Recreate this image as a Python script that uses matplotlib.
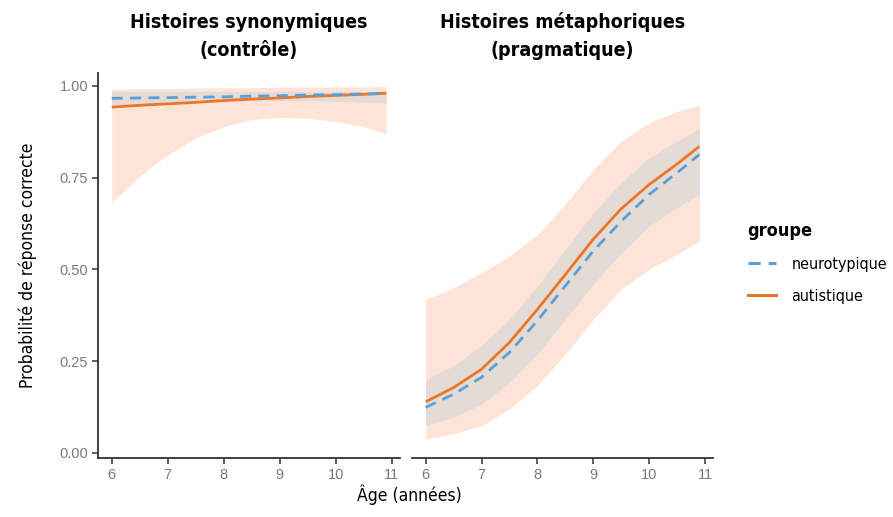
import matplotlib
matplotlib.use("Agg")
import matplotlib.pyplot as plt
from matplotlib.lines import Line2D

# predicted probability by age, read per half year
ages = [6, 6.5, 7, 7.5, 8, 8.5, 9, 9.5, 10, 10.5, 10.9]

# Histoires synonymiques (contrôle)
syn_neuro = [0.966, 0.967, 0.968, 0.969, 0.970, 0.972, 0.973, 0.975, 0.976, 0.978, 0.979]
syn_neuro_lo = [0.948, 0.950, 0.952, 0.955, 0.957, 0.959, 0.960, 0.960, 0.958, 0.956, 0.953]
syn_neuro_hi = [0.985, 0.985, 0.985, 0.985, 0.985, 0.985, 0.985, 0.985, 0.985, 0.985, 0.985]
syn_autis = [0.942, 0.947, 0.951, 0.955, 0.960, 0.964, 0.967, 0.971, 0.974, 0.977, 0.980]
syn_autis_lo = [0.681, 0.754, 0.813, 0.858, 0.889, 0.908, 0.914, 0.912, 0.903, 0.889, 0.869]
syn_autis_hi = [0.991, 0.992, 0.993, 0.994, 0.995, 0.995, 0.996, 0.996, 0.997, 0.997, 0.998]

# Histoires métaphoriques (pragmatique)
met_neuro = [0.124, 0.160, 0.206, 0.274, 0.360, 0.455, 0.550, 0.631, 0.704, 0.763, 0.813]
met_neuro_lo = [0.074, 0.097, 0.133, 0.192, 0.269, 0.364, 0.459, 0.545, 0.618, 0.668, 0.704]
met_neuro_hi = [0.201, 0.237, 0.292, 0.364, 0.455, 0.554, 0.654, 0.736, 0.804, 0.849, 0.885]
met_autis = [0.139, 0.178, 0.228, 0.301, 0.391, 0.486, 0.582, 0.665, 0.731, 0.787, 0.835]
met_autis_lo = [0.038, 0.052, 0.074, 0.120, 0.183, 0.269, 0.364, 0.446, 0.500, 0.541, 0.577]
met_autis_hi = [0.418, 0.450, 0.491, 0.536, 0.595, 0.677, 0.772, 0.849, 0.899, 0.930, 0.948]

titles = ["Histoires synonymiques\n(contrôle)", "Histoires métaphoriques\n(pragmatique)"]
groups = ["neurotypique", "autistique"]
xticks = [6, 7, 8, 9, 10, 11]
yticks = [0.0, 0.25, 0.5, 0.75, 1.0]

BLUE = "#5b9fd8"
ORANGE = "#e8772a"
PEACH = "#fee4d6"
GREY = "#e4dad6"
NARROW = ["DejaVu Sans"]
TICK = ["Liberation Sans", "DejaVu Sans"]
narrow = dict(family=NARROW, stretch="condensed")

fig = plt.figure(figsize=(8.93, 5.17), dpi=100)
ax1 = fig.add_axes([0.1097, 0.1141, 0.3382, 0.7447])
ax2 = fig.add_axes([0.4614, 0.1141, 0.3371, 0.7447])

panels = [
    (ax1, syn_neuro, syn_neuro_lo, syn_neuro_hi, syn_autis, syn_autis_lo, syn_autis_hi),
    (ax2, met_neuro, met_neuro_lo, met_neuro_hi, met_autis, met_autis_lo, met_autis_hi),
]
for i, (ax, n, n_lo, n_hi, a, a_lo, a_hi) in enumerate(panels):
    ax.fill_between(ages, a_lo, a_hi, color=PEACH, lw=0)
    ax.fill_between(ages, n_lo, n_hi, color=GREY, lw=0)
    ax.plot(ages, a, color=ORANGE, lw=2.0, solid_capstyle="butt", solid_joinstyle="round")
    ax.plot(ages, n, color=BLUE, lw=2.0, linestyle=(0, (4, 2.6)))
    ax.set_xlim(5.755, 11.145)
    ax.set_ylim(-0.014, 1.035)
    ax.set_xticks(xticks)
    ax.set_xticklabels([str(t) for t in xticks], family=TICK)
    for s in ["top", "right"]:
        ax.spines[s].set_visible(False)
    for s in ["left", "bottom"]:
        ax.spines[s].set_color("#333333")
        ax.spines[s].set_linewidth(1.3)
    ax.tick_params(axis="both", direction="out", length=4, width=1.1,
                   color="#333333", labelcolor="#7a7a7a", labelsize=10.5, pad=3)
    ax.set_title(titles[i], fontweight="bold", fontsize=14,
                 linespacing=1.6, pad=12, **narrow)

ax1.set_yticks(yticks)
ax1.set_yticklabels(["0.00", "0.25", "0.50", "0.75", "1.00"], family=TICK)
ax1.set_ylabel("Probabilité de réponse correcte", fontsize=12.5, labelpad=16, **narrow)
ax2.spines["left"].set_visible(False)
ax2.set_yticks([])

fig.text(0.458, 0.044, "Âge (années)", fontsize=12.5, ha="center", va="center", **narrow)

handles = [
    Line2D([], [], color=BLUE, lw=2.2, linestyle=(0, (4, 2.6))),
    Line2D([], [], color=ORANGE, lw=2.2),
]
leg = fig.legend(handles, groups, loc="upper left", bbox_to_anchor=(0.821, 0.598),
                 frameon=False, title="groupe", alignment="left",
                 prop={"family": NARROW, "stretch": "condensed", "size": 11.5},
                 title_fontproperties={"family": NARROW, "stretch": "condensed",
                                       "weight": "bold", "size": 13},
                 handlelength=1.8, handletextpad=0.95, labelspacing=1.05)

fig.savefig("out.png", dpi=100)
